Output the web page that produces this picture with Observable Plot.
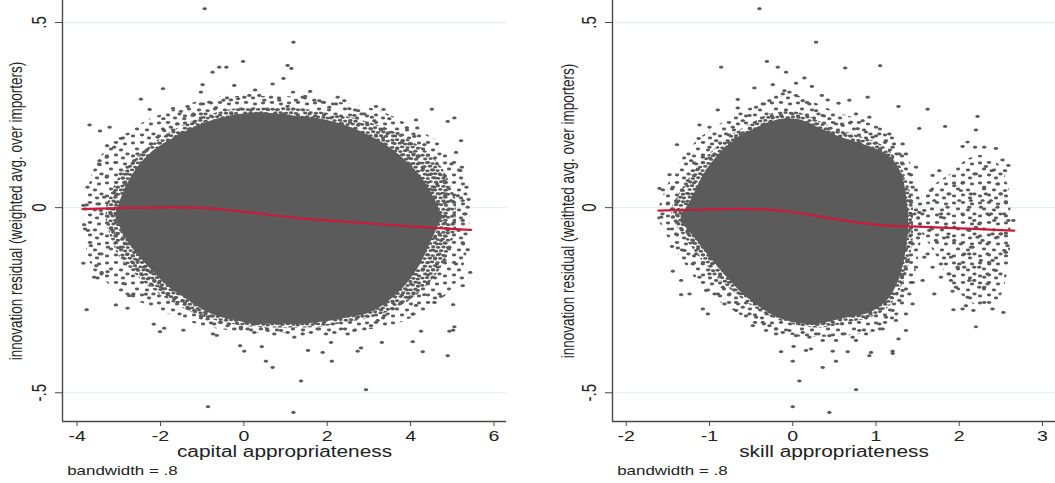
<!DOCTYPE html>
<html>
<head>
<meta charset="utf-8">
<script src="https://cdn.jsdelivr.net/npm/d3@7"></script>
<script src="https://cdn.jsdelivr.net/npm/@observablehq/plot@0.6"></script>
<style>
  html, body { margin: 0; padding: 0; background: #fff; }
  #wrap { position: relative; width: 1055px; height: 483px; overflow: hidden; }
  #left { position: absolute; left: 0; top: 0; }
  #right { position: absolute; left: 535px; top: 0; }
</style>
</head>
<body>
<div id="wrap"><div id="left"></div><div id="right"></div></div>
<script>
// ---------- shared ----------
const yTicks = [-0.5, 0, 0.5];
const yTickLabels = ["-.5", "0", ".5"];
const yDomain = [-0.5776, 0.5595];
const bandwidthNote = "bandwidth = .8";

// ---------- left panel: capital appropriateness ----------
const capitalTitleX = "capital appropriateness";
const capitalTitleY = "innovation residual (weighted avg. over importers)";
const capitalXTicks = [-4, -2, 0, 2, 4, 6];
const capitalXDomain = [-4.35, 6.30];
// outer (sparse) extent of the cloud
const capitalOuterX = [-3.85, -3.6, -3.2, -2.8, -2.4, -2.0, -1.5, -1.0, -0.5, 0, 0.5, 1.0, 1.5, 2.0, 2.5, 3.0, 3.5, 4.0, 4.5, 5.0, 5.3, 5.42];
const capitalOuterTop = [-0.02, 0.10, 0.17, 0.20, 0.23, 0.25, 0.27, 0.29, 0.30, 0.30, 0.30, 0.30, 0.295, 0.29, 0.28, 0.27, 0.25, 0.22, 0.19, 0.14, 0.08, 0.0];
const capitalOuterBottom = [-0.06, -0.17, -0.21, -0.24, -0.26, -0.28, -0.30, -0.32, -0.33, -0.34, -0.34, -0.34, -0.34, -0.34, -0.335, -0.33, -0.32, -0.30, -0.27, -0.22, -0.15, -0.06];
// medium-density band
const capitalMidX = [-3.3, -3.0, -2.6, -2.2, -1.8, -1.4, -1.0, -0.5, 0, 0.5, 1.0, 1.5, 2.0, 2.5, 3.0, 3.5, 4.0, 4.4, 4.8, 5.1];
const capitalMidTop = [0.0, 0.08, 0.13, 0.17, 0.20, 0.225, 0.245, 0.26, 0.27, 0.27, 0.27, 0.265, 0.255, 0.245, 0.23, 0.21, 0.18, 0.15, 0.10, 0.02];
const capitalMidBottom = [-0.04, -0.13, -0.18, -0.22, -0.25, -0.275, -0.295, -0.31, -0.32, -0.325, -0.325, -0.325, -0.32, -0.31, -0.30, -0.28, -0.25, -0.21, -0.15, -0.06];
// dense core of the cloud
const capitalEnvX = [-3.05, -2.85, -2.6, -2.2, -1.8, -1.4, -1.0, -0.6, -0.2, 0.2, 0.6, 1.0, 1.4, 1.8, 2.2, 2.6, 3.0, 3.4, 3.8, 4.2, 4.5, 4.75];
const capitalEnvTop = [-0.01, 0.05, 0.10, 0.15, 0.18, 0.205, 0.225, 0.24, 0.25, 0.255, 0.255, 0.25, 0.245, 0.24, 0.23, 0.215, 0.195, 0.17, 0.135, 0.09, 0.04, -0.02];
const capitalEnvBottom = [-0.03, -0.08, -0.12, -0.17, -0.215, -0.245, -0.275, -0.295, -0.305, -0.315, -0.315, -0.315, -0.315, -0.31, -0.305, -0.295, -0.285, -0.26, -0.22, -0.16, -0.09, -0.03];
// scattered observations outside the dense core
const capitalPoints = [
[-0.94,0.537],[1.19,0.447],[-0.02,0.395],[1.05,0.384],[1.14,0.376],[-0.75,0.366],[-0.59,0.379],[-0.42,0.379],[0.95,0.349],[-0.99,0.332],[-0.23,0.330],[0.69,0.334],[-1.94,0.321],[-1.03,0.312],[0.27,0.318],[1.18,0.312],[1.59,0.314],[-2.47,0.293],[2.25,0.298],[2.41,0.289],[1.81,0.289],[1.47,0.300],[-2.26,0.265],[-1.70,0.268],[2.74,0.262],[3.17,0.273],[3.35,0.265],[4.51,0.266],[-1.93,0.240],[5.05,0.242],[4.89,0.233],[4.13,0.237],[3.49,0.240],[3.07,0.244],[-3.70,0.223],[-3.22,0.217],[-3.45,0.207],[3.91,0.216],[4.16,0.215],[5.21,0.181],[4.33,0.170],[4.09,0.192],[-3.28,0.167],[-3.11,0.163],[-2.95,0.187],[-3.29,0.136],[-3.46,0.127],[-3.46,0.116],[-3.08,0.122],[5.09,0.149],[4.98,0.118],[5.23,0.109],[5.19,0.100],[-3.75,0.055],[-3.29,0.082],[5.34,0.055],[5.13,0.032],[5.25,0.019],[5.39,0.022],[5.37,0.001],[-3.85,0.006],[-3.77,0.007],[-3.83,-0.046],[-3.74,-0.062],[-3.67,-0.103],[-3.85,-0.150],[-3.46,-0.125],[-3.54,-0.157],[-3.26,-0.107],[-3.59,-0.188],[-3.51,-0.190],[-3.27,-0.173],[-3.41,-0.175],[-3.77,-0.276],[-3.07,-0.263],[-2.89,-0.205],[-2.79,-0.272],[-2.75,-0.238],[-2.65,-0.233],[-2.35,-0.234],[-2.16,-0.315],[-2.01,-0.335],[-1.91,-0.326],[-1.45,-0.331],[-0.74,-0.341],[-0.65,-0.345],[-0.09,-0.373],[0.01,-0.388],[0.43,-0.376],[0.53,-0.415],[0.69,-0.432],[1.37,-0.468],[1.54,-0.386],[1.89,-0.391],[2.11,-0.415],[2.09,-0.364],[2.73,-0.388],[2.81,-0.379],[2.93,-0.492],[3.31,-0.364],[4.05,-0.362],[4.29,-0.389],[4.89,-0.400],[4.25,-0.334],[4.93,-0.334],[5.02,-0.331],[5.05,-0.322],[5.02,-0.262],[4.57,-0.256],[4.73,-0.240],[4.33,-0.235],[5.25,-0.211],[5.23,-0.190],[5.43,-0.175],[5.09,-0.152],[5.37,-0.114],[5.25,-0.095],[5.15,-0.062],[5.25,-0.035],[5.29,-0.017],[-0.86,-0.538],[1.19,-0.553],[4.13,-0.264],[4.05,-0.288],
[-1.51,0.26],[-1.35,0.273],[-1.21,0.253],[-1.03,0.28],[-0.83,0.285],[-0.67,0.27],[-0.49,0.29],[-0.31,0.291],[-0.14,0.294],[0.01,0.298],[0.13,0.303],[0.37,0.303],[0.49,0.29],[0.65,0.298],[0.85,0.29],[1.05,0.273],[1.25,0.29],[1.41,0.298],[1.69,0.29],[1.89,0.285],[2.05,0.271],[2.21,0.28],[2.53,0.267],[2.65,0.249],[2.89,0.253],[3.13,0.235],[3.37,0.213],[3.53,0.204],[3.69,0.2],[3.81,0.181],[3.97,0.172],[4.17,0.136],[4.29,0.109],[4.49,0.091],[4.57,0.055],[4.81,0.073],[4.85,0.037],[4.97,0.019],[4.65,0.01],[4.77,-0.026],[4.89,-0.062],[4.73,-0.089],[4.93,-0.107],[4.81,-0.143],[4.65,-0.161],[4.53,-0.188],[4.41,-0.206],[4.17,-0.224],[3.97,-0.242],[3.77,-0.256],[3.57,-0.274],[3.37,-0.292],[3.21,-0.305],[3.05,-0.319],[2.89,-0.328],[2.65,-0.332],[2.49,-0.341],[2.33,-0.328],[2.17,-0.337],[1.97,-0.341],[1.77,-0.328],[1.61,-0.337],[1.41,-0.341],[1.21,-0.35],[1.05,-0.337],[0.89,-0.332],[0.73,-0.341],[0.57,-0.332],[0.41,-0.328],[0.25,-0.337],[0.09,-0.328],[-0.07,-0.323],[-0.23,-0.328],[-0.39,-0.319],[-0.55,-0.31],[-0.71,-0.314],[-0.87,-0.301],[-1.03,-0.292],[-1.19,-0.278],[-1.35,-0.269],[-1.47,-0.251],[-1.67,-0.247],[-1.83,-0.233],[-1.99,-0.215],[-2.15,-0.197],[-2.23,-0.175],[-2.39,-0.161],[-2.55,-0.143],[-2.63,-0.121],[-2.79,-0.098],[-2.95,-0.107],[-3.03,-0.071],[-3.15,-0.062],[-2.91,-0.044],[-3.03,-0.026],[-3.19,-0.017],[-3.43,-0.008],[-3.51,0.01],[-3.35,0.028],[-3.11,0.041],[-3.03,0.055],[-2.87,0.068],[-2.95,0.091],[-2.79,0.109],[-2.63,0.127],[-2.55,0.145],[-2.39,0.15],[-2.23,0.172],[-2.07,0.19],[-1.91,0.208],[-1.75,0.217],[-1.59,0.226],[-1.43,0.24],[-1.23,0.249],[-1.03,0.253],[-0.87,0.262]
];
const capitalLowessX = [-3.87, -2.63, -1.59, -1.03, -0.39, 0.25, 1.21, 2.01, 2.97, 3.93, 4.57, 5.45];
const capitalLowessY = [-0.004, 0.0, 0.001, 0.0, -0.006, -0.014, -0.028, -0.035, -0.042, -0.05, -0.055, -0.06];

// ---------- right panel: skill appropriateness ----------
const skillTitleX = "skill appropriateness";
const skillTitleY = "innovation residual (weithted avg. over importers)";
const skillXTicks = [-2, -1, 0, 1, 2, 3];
const skillXDomain = [-2.165, 3.156];
const skillOuterX = [-1.62, -1.5, -1.3, -1.1, -0.9, -0.7, -0.5, -0.3, -0.1, 0.1, 0.3, 0.5, 0.7, 0.9, 1.1, 1.3, 1.45, 1.55];
const skillOuterTop = [-0.01, 0.06, 0.14, 0.19, 0.22, 0.25, 0.27, 0.29, 0.30, 0.30, 0.28, 0.26, 0.245, 0.23, 0.21, 0.17, 0.10, 0.0];
const skillOuterBottom = [-0.03, -0.08, -0.15, -0.21, -0.25, -0.28, -0.31, -0.33, -0.34, -0.35, -0.35, -0.35, -0.345, -0.34, -0.33, -0.28, -0.20, -0.08];
const skillMidX = [-1.45, -1.3, -1.1, -0.9, -0.7, -0.5, -0.3, -0.1, 0.1, 0.3, 0.5, 0.7, 0.9, 1.1, 1.25, 1.38, 1.45];
const skillMidTop = [0.0, 0.06, 0.12, 0.165, 0.20, 0.225, 0.25, 0.26, 0.255, 0.235, 0.215, 0.20, 0.185, 0.165, 0.13, 0.07, 0.0];
const skillMidBottom = [-0.03, -0.08, -0.14, -0.19, -0.23, -0.265, -0.29, -0.31, -0.32, -0.325, -0.32, -0.31, -0.30, -0.28, -0.24, -0.17, -0.08];
const skillClusterX = [1.5, 1.7, 1.9, 2.1, 2.3, 2.5, 2.62];
const skillClusterTop = [0.0, 0.06, 0.09, 0.13, 0.14, 0.11, 0.03];
const skillClusterBottom = [-0.05, -0.12, -0.2, -0.25, -0.27, -0.24, -0.1];
const skillEnvX = [-1.34, -1.22, -1.08, -0.88, -0.68, -0.48, -0.28, -0.08, 0.12, 0.32, 0.52, 0.72, 0.92, 1.12, 1.24, 1.33, 1.39];
const skillEnvTop = [-0.02, 0.02, 0.085, 0.145, 0.185, 0.21, 0.23, 0.24, 0.235, 0.215, 0.195, 0.18, 0.165, 0.145, 0.12, 0.075, -0.01];
const skillEnvBottom = [-0.04, -0.07, -0.11, -0.165, -0.215, -0.255, -0.285, -0.305, -0.315, -0.315, -0.305, -0.295, -0.285, -0.255, -0.215, -0.155, -0.07];
const skillPoints = [
[-0.40,0.537],[0.28,0.447],[-0.31,0.395],[-0.86,0.379],[-0.18,0.379],[0.63,0.377],[1.05,0.383],[-0.08,0.366],[0.04,0.336],[0.14,0.35],[-0.24,0.332],[0.23,0.327],[-0.46,0.323],[-0.10,0.316],[0.35,0.303],[0.90,0.298],[0.42,0.291],[0.55,0.282],[0.68,0.29],[-0.66,0.292],[1.27,0.273],[1.62,0.266],[1.83,0.219],[2.22,0.246],[2.20,0.21],[1.52,0.214],[-0.90,0.264],[-0.66,0.269],[-1.12,0.223],[-1.00,0.217],[-1.39,0.17],[-1.13,0.187],[-1.48,0.089],[-1.60,0.052],[-1.56,0.048],[2.10,0.177],[2.04,0.165],[2.19,0.163],[2.30,0.163],[2.44,0.16],[2.52,0.129],[2.59,0.114],[2.55,0.1],[2.39,0.1],[2.32,0.111],[2.20,0.091],[2.46,0.064],[2.55,0.046],[2.56,0.016],[2.65,-0.035],[2.56,-0.069],[2.58,-0.103],[2.56,-0.121],[2.44,-0.17],[2.34,-0.206],[2.30,-0.256],[2.40,-0.274],[2.53,-0.283],[2.20,-0.322],[2.17,-0.278],[2.08,-0.265],[2.04,-0.274],[1.93,-0.276],[1.92,-0.226],[1.96,-0.215],[1.70,-0.233],[1.56,-0.197],[1.44,-0.202],[1.44,-0.26],[1.36,-0.332],[1.27,-0.355],[1.20,-0.388],[1.20,-0.394],[0.94,-0.391],[0.92,-0.4],[0.76,-0.492],[0.66,-0.389],[0.52,-0.415],[0.48,-0.388],[0.36,-0.432],[0.22,-0.382],[0.16,-0.386],[0.08,-0.468],[0.00,-0.415],[0.01,-0.375],[-0.14,-0.389],[0.00,-0.538],[0.44,-0.553],[-1.02,-0.287],[-1.08,-0.274],[-1.34,-0.235],[-1.24,-0.233],[-1.34,-0.197],[-1.44,-0.172],[-1.45,-0.105],[-1.38,-0.109],[-1.49,-0.058],[-1.58,-0.026],[1.52,-0.013],[1.66,0.046],[1.76,0.1],[1.68,0.087],[1.94,0.059],[2.04,0.066],[1.88,0.037],[1.64,-0.062],[1.72,-0.089],[1.84,-0.053],[1.94,-0.089],[2.12,-0.125],[2.24,-0.161],[2.06,-0.161],[1.90,-0.134],[1.68,-0.161],[1.58,-0.134],[1.78,-0.188],[1.88,-0.179],[2.28,0.019],[2.12,0.001],[2.04,-0.017],[2.38,-0.017],[2.46,0.001],[2.40,-0.071],[2.28,-0.089],[2.16,-0.107],[2.34,-0.125],[2.20,-0.053],[1.86,0.001],[1.78,-0.026],[2.00,0.019],[2.14,0.037],[2.32,0.037],[2.50,-0.071],[2.24,-0.215],[2.12,-0.197],[2.30,-0.188],[2.36,-0.152],[2.0,-0.152],
[2.14,0.019],[2.26,0.001],[2.34,-0.017],[2.42,-0.035],[2.18,-0.035],[2.22,-0.08],[2.34,-0.098],[2.14,-0.107],[2.26,-0.143],[2.18,-0.161],[2.34,-0.179],[1.94,-0.053],[1.86,-0.08],[1.78,-0.017],[1.70,0.019],[2.02,0.046],[2.50,0.037],[2.46,-0.08],[2.54,-0.116],[2.06,-0.125],[1.98,-0.161],[1.90,-0.197],[2.18,-0.197],[2.30,-0.215],[2.10,-0.242],[1.62,-0.125],[1.66,-0.053],[1.58,-0.008],[2.54,-0.017],[2.38,0.019],[2.24,-0.044],[2.12,-0.062],[2.40,-0.143],[2.02,-0.098],[1.78,-0.152],[2.30,0.055],[2.59,-0.035],
[-1.08,0.136],[-1.0,0.163],[-0.92,0.181],[-0.80,0.199],[-0.72,0.217],[-0.60,0.235],[-0.52,0.249],[-0.44,0.271],[-0.36,0.28],[-0.28,0.289],[-0.20,0.298],[-0.12,0.307],[-0.04,0.312],[0.04,0.303],[0.12,0.289],[0.20,0.28],[0.28,0.262],[0.36,0.249],[0.44,0.24],[0.52,0.226],[0.60,0.222],[0.70,0.231],[0.78,0.213],[0.88,0.204],[0.96,0.19],[1.04,0.199],[1.12,0.181],[1.20,0.163],[1.28,0.145],[1.32,0.118],[1.40,0.091],[1.44,0.055],[1.42,0.019],[1.46,-0.017],[1.40,-0.062],[1.44,-0.098],[1.38,-0.143],[1.34,-0.179],[1.32,-0.224],[1.28,-0.251],[1.20,-0.278],[1.12,-0.296],[1.04,-0.314],[0.96,-0.332],[0.88,-0.341],[0.80,-0.332],[0.72,-0.35],[0.60,-0.341],[0.52,-0.359],[0.44,-0.346],[0.36,-0.359],[0.28,-0.341],[0.20,-0.35],[0.12,-0.337],[0.04,-0.346],[-0.04,-0.332],[-0.12,-0.337],[-0.20,-0.328],[-0.28,-0.319],[-0.36,-0.31],[-0.44,-0.296],[-0.52,-0.287],[-0.60,-0.269],[-0.68,-0.256],[-0.76,-0.233],[-0.84,-0.215],[-0.92,-0.197],[-1.0,-0.179],[-1.08,-0.152],[-1.16,-0.125],[-1.20,-0.089],[-1.26,-0.062],[-1.32,-0.035],[-1.36,-0.008],[-1.40,0.019],[-1.32,0.046],[-1.26,0.073],[-1.20,0.1],[-1.16,0.118],[-1.22,0.127],[-1.44,0.055],[-1.50,0.01],[-1.44,-0.026],[-1.40,-0.071],[-1.30,-0.116],[-1.20,-0.152],[-1.12,-0.188],[-1.04,-0.224],[-0.90,-0.233],[-0.82,-0.26],[-0.68,-0.278],[-0.48,-0.319],[-0.32,-0.332],[-0.20,-0.341],[0.76,-0.359],[1.08,-0.328],[1.24,-0.305],[1.36,-0.287],[1.40,-0.233],[1.48,-0.161],[1.52,-0.071],[1.48,0.109],[1.36,0.145],[1.32,0.172],[1.16,0.199],[1.00,0.217],[0.84,0.235],[0.92,0.244],[0.76,0.253]
];
const skillLowessX = [-1.61, -1.08, -0.68, -0.32, -0.04, 0.36, 0.88, 1.20, 1.52, 2.12, 2.66];
const skillLowessY = [-0.008, -0.005, -0.003, -0.004, -0.01, -0.026, -0.044, -0.05, -0.051, -0.057, -0.062];

// ---------- drawing ----------
const dotColor = "#5b5b5b";
const lineColor = "#cc1a3a";
const axisColor = "#4a4a4a";
const gridColor = "#e5eef0";

const ellipse = {
  draw(ctx, size) {
    const r = Math.sqrt(size / Math.PI), rx = r * 1.3, ry = r * 0.85, k = 0.5523;
    ctx.moveTo(rx, 0);
    ctx.bezierCurveTo(rx, ry * k, rx * k, ry, 0, ry);
    ctx.bezierCurveTo(-rx * k, ry, -rx, ry * k, -rx, 0);
    ctx.bezierCurveTo(-rx, -ry * k, -rx * k, -ry, 0, -ry);
    ctx.bezierCurveTo(rx * k, -ry, rx, -ry * k, rx, 0);
    ctx.closePath();
  }
};

const fmt = d => d < 0 ? "-" + Math.abs(d) : String(d);
const rows = (xs, top, bot) => xs.map((x, i) => ({x, hi: top[i], lo: bot[i]}));

function panel(o) {
  const pts = o.points.map(([x, y]) => ({x, y}));
  const low = o.lowX.map((x, i) => ({x, y: o.lowY[i]}));
  const bands = [];
  o.sparse.forEach(b => bands.push(Plot.areaY(b, {x: "x", y1: "lo", y2: "hi", curve: "catmull-rom", fill: `url(#sparse-${o.id})`})));
  bands.push(Plot.areaY(o.mid, {x: "x", y1: "lo", y2: "hi", curve: "catmull-rom", fill: `url(#dense-${o.id})`}));
  bands.push(Plot.areaY(o.core, {x: "x", y1: "lo", y2: "hi", curve: "catmull-rom", fill: dotColor}));
  return Plot.plot({
    width: o.width, height: 483,
    marginLeft: o.marginLeft, marginRight: o.marginRight, marginTop: 0, marginBottom: 62,
    x: {domain: o.xDomain},
    y: {domain: yDomain},
    style: {fontFamily: "'Liberation Sans', Arial, sans-serif", fontSize: "15px", color: "#222", background: "#fff", overflow: "visible"},
    marks: [
      Plot.ruleY(yTicks, {stroke: gridColor, strokeWidth: 1.2}),
      ...bands,
      Plot.dot(pts, {x: "x", y: "y", r: 1.75, symbol: ellipse, fill: dotColor}),
      Plot.line(low, {x: "x", y: "y", stroke: lineColor, strokeWidth: 2.2, curve: "basis"}),
      Plot.ruleY([yDomain[0]], {stroke: axisColor, strokeWidth: 1.4}),
      Plot.ruleX([o.xDomain[0]], {stroke: axisColor, strokeWidth: 1.4}),
      Plot.axisX({ticks: o.xTicks, tickSize: 5, tickPadding: 4, label: null, tickFormat: fmt, stroke: axisColor, fill: "#222", fontSize: 15}),
      Plot.axisY({ticks: yTicks, tickSize: 7, label: null, tickFormat: () => "", stroke: axisColor}),
      Plot.text(yTicks, {y: d => d, text: yTickLabels, frameAnchor: "left", dx: -23, rotate: -90, textAnchor: "middle", lineAnchor: "middle", fontSize: 15, fill: "#222"}),
      Plot.text([o.titleY], {frameAnchor: "left", dx: -o.titleYOffset, rotate: -90, textAnchor: "middle", lineAnchor: "middle", fontSize: 13.5, fill: "#222"}),
      Plot.text([o.titleX], {frameAnchor: "bottom", dy: 30.7, textAnchor: "middle", lineAnchor: "middle", fontSize: 16, fill: "#222"}),
      Plot.text([bandwidthNote], {frameAnchor: "bottom-left", dx: 4.7, dy: 49.6, textAnchor: "start", lineAnchor: "middle", fontSize: 13, fill: "#222"})
    ]
  });
}

// dot textures for the medium / sparse parts of the cloud (irregular tiles)
const denseTile = [[2.4,2.1],[7.1,1.8],[12.6,2.6],[17.9,1.9],[23.4,2.4],[27.8,3.1],[4.6,5.6],[9.9,5.2],[15.2,6.1],[20.3,5.4],[25.6,6.3],[2.2,9.4],[7.4,9.9],[12.1,8.9],[17.6,9.6],[22.8,9.1],[27.9,10.2],[4.9,13.3],[10.3,13.6],[15.1,12.8],[20.6,13.9],[25.4,13.2],[2.6,17.2],[7.8,17.6],[13.2,16.7],[18.1,17.4],[23.5,17.0],[28.0,17.8],[5.2,21.0],[10.6,20.6],[16.0,21.2],[21.1,20.8],[26.0,21.4]];
const sparseTile = [[3,3],[12,2.5],[21,4],[7,9],[17,10],[23.5,14],[3,16],[12,15],[19,18]];

function addPatterns(svg, id) {
  const defs = d3.select(svg).insert("defs", ":first-child");
  const mk = (name, w, h, pts, rot) => {
    const p = defs.append("pattern").attr("id", name).attr("patternUnits", "userSpaceOnUse")
      .attr("width", w).attr("height", h).attr("patternTransform", `rotate(${rot})`);
    pts.forEach(([cx, cy]) => p.append("ellipse").attr("cx", cx).attr("cy", cy).attr("rx", 2.2).attr("ry", 1.45).attr("fill", dotColor));
  };
  mk(`dense-${id}`, 30, 23, denseTile, 0);
  mk(`sparse-${id}`, 26, 20, sparseTile, 0);
}

function stretch(svg) {
  svg.querySelectorAll("text").forEach(t => {
    const tr = t.getAttribute("transform") || "";
    if (/rotate/.test(tr)) {
      t.setAttribute("transform", tr + " scale(1,1.3)");
    } else if (t.textContent.length) {
      const L = t.getComputedTextLength();
      if (L > 0) {
        t.setAttribute("textLength", (L * 1.3).toFixed(2));
        t.setAttribute("lengthAdjust", "spacingAndGlyphs");
      }
    }
  });
}

const left = panel({
  id: "cap", width: 530, marginLeft: 62, marginRight: 24, xDomain: capitalXDomain, xTicks: capitalXTicks,
  sparse: [rows(capitalOuterX, capitalOuterTop, capitalOuterBottom)],
  mid: rows(capitalMidX, capitalMidTop, capitalMidBottom),
  core: rows(capitalEnvX, capitalEnvTop, capitalEnvBottom),
  points: capitalPoints, lowX: capitalLowessX, lowY: capitalLowessY,
  titleX: capitalTitleX, titleY: capitalTitleY, titleYOffset: 46
});
addPatterns(left, "cap");
document.getElementById("left").appendChild(left);
stretch(left);

const right = panel({
  id: "skl", width: 520, marginLeft: 77, marginRight: 0, xDomain: skillXDomain, xTicks: skillXTicks,
  sparse: [rows(skillOuterX, skillOuterTop, skillOuterBottom), rows(skillClusterX, skillClusterTop, skillClusterBottom)],
  mid: rows(skillMidX, skillMidTop, skillMidBottom),
  core: rows(skillEnvX, skillEnvTop, skillEnvBottom),
  points: skillPoints, lowX: skillLowessX, lowY: skillLowessY,
  titleX: skillTitleX, titleY: skillTitleY, titleYOffset: 44
});
addPatterns(right, "skl");
document.getElementById("right").appendChild(right);
stretch(right);
</script>
</body>
</html>
